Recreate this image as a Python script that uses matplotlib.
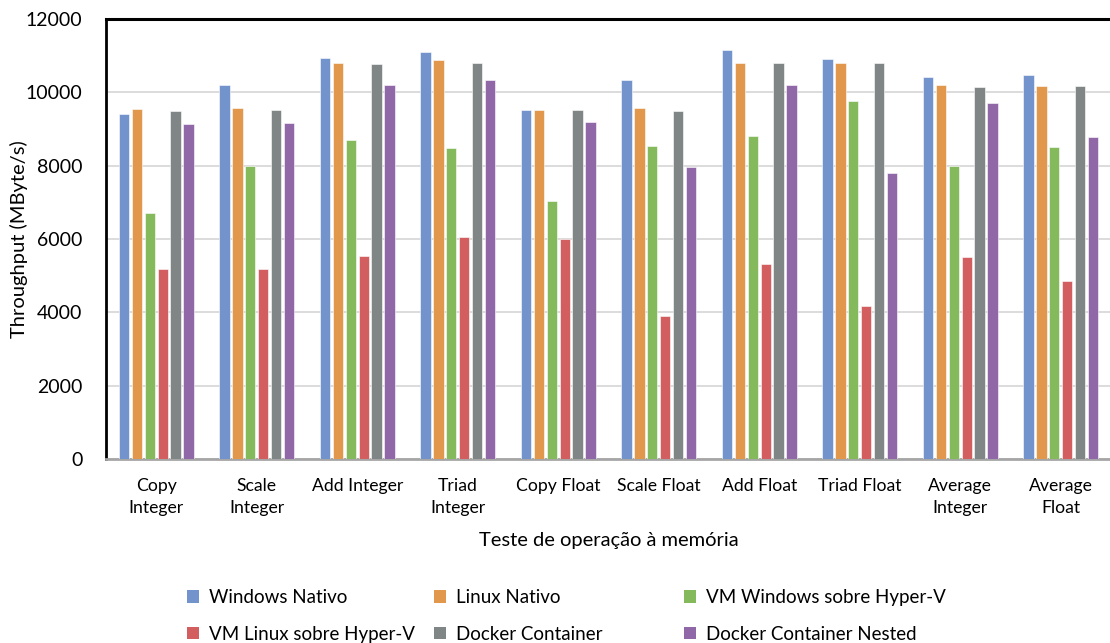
import numpy as np
import matplotlib
matplotlib.use("Agg")
import matplotlib.pyplot as plt
from matplotlib.patches import Patch

plt.rcParams["font.family"] = ["Lato", "DejaVu Sans"]

categories = ["Copy\nInteger", "Scale\nInteger", "Add Integer", "Triad\nInteger",
              "Copy Float", "Scale Float", "Add Float", "Triad Float",
              "Average\nInteger", "Average\nFloat"]

windows_nativo = [9420, 10210, 10950, 11090, 9510, 10350, 11160, 10910, 10410, 10480]
linux_nativo = [9550, 9560, 10810, 10890, 9510, 9560, 10810, 10790, 10200, 10160]
vm_windows = [6720, 8000, 8710, 8490, 7030, 8530, 8800, 9770, 7980, 8520]
vm_linux = [5170, 5170, 5550, 6050, 6000, 3890, 5310, 4170, 5500, 4850]
docker = [9500, 9520, 10780, 10800, 9520, 9500, 10800, 10800, 10150, 10160]
docker_nested = [9140, 9170, 10200, 10350, 9200, 7970, 10210, 7800, 9720, 8790]

series_names = ["Windows Nativo", "Linux Nativo", "VM Windows sobre Hyper-V",
                "VM Linux sobre Hyper-V", "Docker Container", "Docker Container Nested"]
series = [windows_nativo, linux_nativo, vm_windows, vm_linux, docker, docker_nested]
colors = ["#7293CB", "#E1974C", "#84BA5B", "#D35E60", "#808585", "#9067A7"]

fig = plt.figure(figsize=(11.1, 6.43), dpi=100)
ax = fig.add_axes([106 / 1110, 1 - 459 / 643, 1005 / 1110, 440 / 643])

x = np.arange(len(categories))
slot = 0.128
width = 0.103
for i, (vals, c) in enumerate(zip(series, colors)):
    ax.bar(x + (i - 2.5) * slot, vals, width, color=c, edgecolor="white",
           linewidth=0.4, zorder=3)

ax.set_xlim(-0.5, len(categories) - 0.5)
ax.set_ylim(0, 12000)
ax.set_yticks(range(0, 12001, 2000))
ax.yaxis.grid(True, color="#D9D9D9", linewidth=1.3, zorder=0)
ax.set_xticks(x)
ax.set_xticklabels(categories, fontsize=12.7, linespacing=1.4)
ax.tick_params(axis="both", length=0)
ax.tick_params(axis="x", pad=14, labelsize=12.7)
ax.tick_params(axis="y", pad=17, labelsize=14)

ax.spines["left"].set_linewidth(2)
ax.spines["left"].set_color("black")
ax.spines["top"].set_linewidth(2.2)
ax.spines["top"].set_color("black")
ax.spines["bottom"].set_linewidth(2)
ax.spines["bottom"].set_color("#A6A6A6")
ax.spines["right"].set_visible(False)

ax.set_ylabel("Throughput (MByte/s)", fontsize=14.5, labelpad=-2)
ax.set_xlabel("Teste de operação à memória", fontsize=14.5, labelpad=12)

# legend: three columns placed by hand, two rows each
col_x = [187 / 1110, 434 / 1110, 684 / 1110]
for col in range(3):
    idx = [col, col + 3]
    handles = [Patch(facecolor=colors[k]) for k in idx]
    labels = [series_names[k] for k in idx]
    fig.legend(handles, labels, loc="upper left",
               bbox_to_anchor=(col_x[col], 1 - 589 / 643), frameon=False,
               fontsize=13.5, handlelength=0.65, handleheight=0.65,
               handletextpad=0.5, labelspacing=1.05, borderaxespad=0,
               borderpad=0)

fig.savefig("out.png", dpi=100)
